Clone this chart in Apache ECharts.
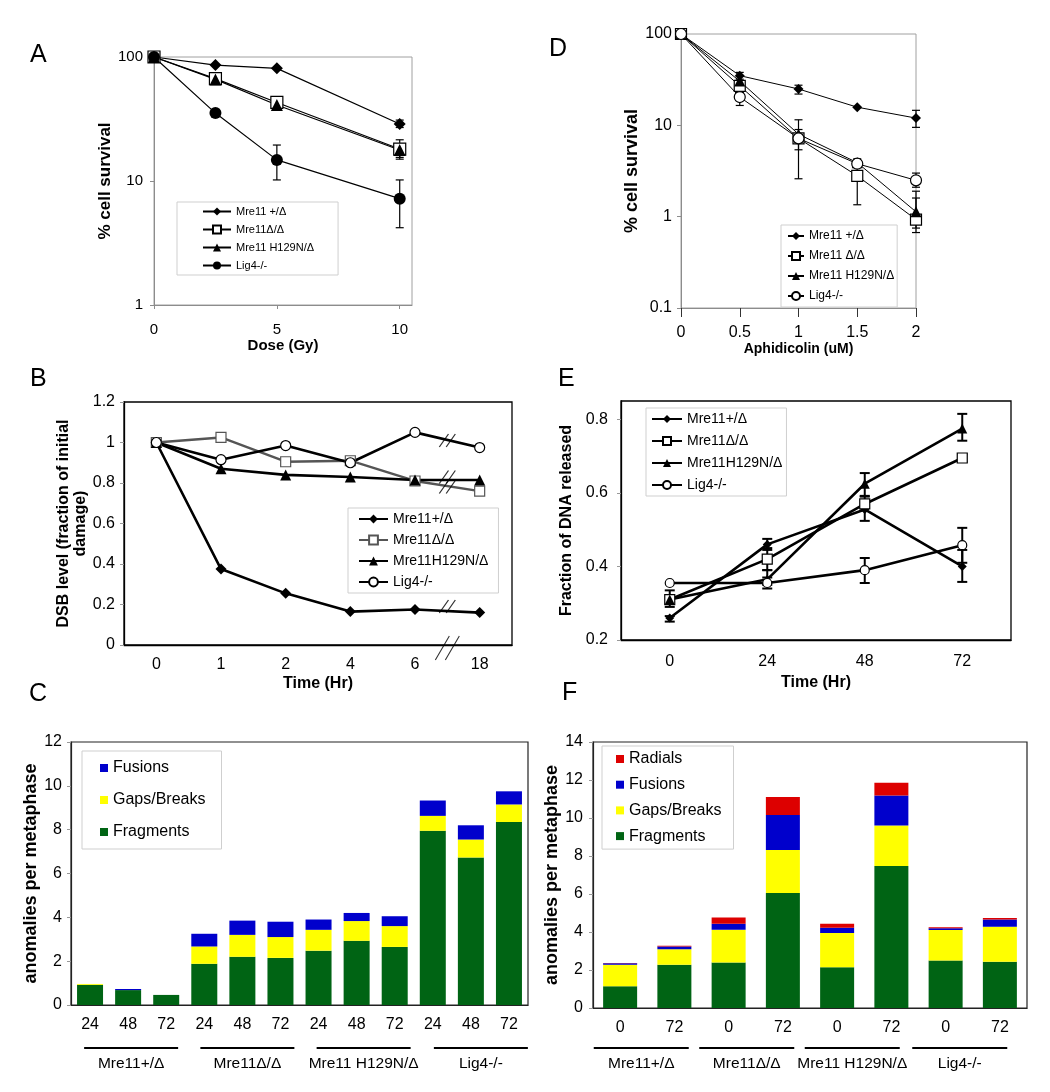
<!DOCTYPE html>
<html><head><meta charset="utf-8">
<script src="https://cdn.jsdelivr.net/npm/echarts@6/dist/echarts.min.js"></script>
<style>html,body{margin:0;padding:0;background:#fff}#chart{width:1050px;height:1092px}</style>
</head><body><div id="chart"></div>
<script>
// ---------- Panel A: IR survival ----------
const doseA = [0, 2.5, 5, 10];
const survA_plus = [100, 86, 81, 28.8];
const survA_dd = [100, 67, 43, 18.1];
const survA_h129 = [100, 66, 41, 17.8];
const survA_lig4 = [100, 35.3, 14.8, 7.2];
const errA_plus = [[10, 27, 31]];
const errA_dd = [[5, 38, 46], [10, 15, 21.5]];
const errA_h129 = [[10, 15.5, 20]];
const errA_lig4 = [[5, 10.2, 19.5], [10, 4.2, 10.2]];

// ---------- Panel D: aphidicolin survival ----------
const doseD = [0, 0.5, 1, 1.5, 2];
const survD_plus = [100, 35, 25, 15.8, 12];
const survD_dd = [100, 27, 7.2, 2.8, 0.93];
const survD_h129 = [100, 30.5, 8, 3.9, 1.13];
const survD_lig4 = [100, 20.4, 7.2, 3.8, 2.5];
const errD_plus = [[0.5, 32, 38], [1, 22, 27.5], [2, 9.5, 14.6]];
const errD_dd = [[0.5, 23, 30], [1, 2.6, 11.5], [1.5, 1.35, 4.3], [2, 0.67, 1.6]];
const errD_h129 = [[1, 5.4, 9], [2, 0.75, 1.9]];
const errD_lig4 = [[0.5, 16.5, 23], [2, 2.1, 3.0]];

// ---------- Panel B: DSB level ----------
const timesB = ['0', '1', '2', '4', '6', '18'];
const dsbB_plus = [1, 0.375, 0.255, 0.165, 0.175, 0.16];
const dsbB_dd = [1, 1.025, 0.905, 0.91, 0.81, 0.76];
const dsbB_h129 = [1, 0.87, 0.84, 0.83, 0.815, 0.815];
const dsbB_lig4 = [1, 0.915, 0.985, 0.9, 1.05, 0.975];
const breakPosB = 5;                       // boundary between "6" and "18"
const breakLevelsB = [1.01, 0.83, 0.78, 0.19];

// ---------- Panel E: fraction of DNA released ----------
const timesE = ['0', '24', '48', '72'];
const relE_plus = [0.26, 0.46, 0.555, 0.40];
const relE_dd = [0.31, 0.42, 0.57, 0.695];
const relE_h129 = [0.31, 0.365, 0.625, 0.775];
const relE_lig4 = [0.355, 0.355, 0.39, 0.458];
const errE_plus = [['0', 0.25, 0.265], ['24', 0.445, 0.475], ['48', 0.524, 0.59], ['72', 0.358, 0.445]];
const errE_dd = [['0', 0.29, 0.335], ['24', 0.39, 0.45], ['72', 0.685, 0.705]];
const errE_h129 = [['24', 0.35, 0.39], ['48', 0.592, 0.654], ['72', 0.742, 0.815]];
const errE_lig4 = [['24', 0.34, 0.37], ['48', 0.355, 0.423], ['72', 0.41, 0.505]];

// ---------- Panel C: anomalies (IR) ----------
const timesC = ['24', '48', '72', '24', '48', '72', '24', '48', '72', '24', '48', '72'];
const groupsC = ['Mre11+/Δ', 'Mre11Δ/Δ', 'Mre11 H129N/Δ', 'Lig4-/-'];
const fragC = [0.92, 0.68, 0.46, 1.88, 2.2, 2.15, 2.48, 2.93, 2.65, 7.95, 6.73, 8.35];
const gapsC = [0.04, 0, 0, 0.79, 1.0, 0.95, 0.95, 0.9, 0.95, 0.68, 0.82, 0.8];
const fusC = [0, 0.05, 0, 0.58, 0.65, 0.7, 0.47, 0.37, 0.45, 0.7, 0.65, 0.6];

// ---------- Panel F: anomalies (aphidicolin) ----------
const timesF = ['0', '72', '0', '72', '0', '72', '0', '72'];
const groupsF = ['Mre11+/Δ', 'Mre11Δ/Δ', 'Mre11 H129N/Δ', 'Lig4-/-'];
const fragF = [1.15, 2.27, 2.4, 6.05, 2.15, 7.47, 2.5, 2.43];
const gapsF = [1.12, 0.82, 1.72, 2.27, 1.8, 2.13, 1.6, 1.85];
const fusF = [0.08, 0.15, 0.32, 1.84, 0.28, 1.58, 0.1, 0.38];
const radF = [0.02, 0.03, 0.32, 0.94, 0.21, 0.68, 0.05, 0.08];

// ---------- styling helpers ----------
const FF = "'Liberation Sans', Arial, Helvetica, sans-serif";
const GREEN = '#006414', YELLOW = '#ffff00', BLUE = '#0000cc', RED = '#dd0000';
const GRAY = '#8c8c8c';
const shiftsC = [3, 5, 7, 10];
const shiftsF = [-6, -9, -12, -13];

function pairs(xs, ys) { return xs.map((x, i) => [x, ys[i]]); }

function lineS(name, data, xi, yi, sym, size, open, lw, col) {
  return {
    type: 'line', name, data, xAxisIndex: xi, yAxisIndex: yi,
    symbol: sym, symbolSize: size, showAllSymbol: true, z: 3,
    lineStyle: { color: col, width: lw },
    itemStyle: open ? { color: '#fff', borderColor: col, borderWidth: 1.2 } : { color: col, borderColor: col, borderWidth: 0 },
    emphasis: { disabled: true }
  };
}

function errS(data, xi, yi, cap, lw) {
  return {
    type: 'custom', data, xAxisIndex: xi, yAxisIndex: yi, encode: { x: 0, y: [1, 2] },
    z: 2, silent: true,
    renderItem(params, api) {
      const x = api.value(0);
      const p1 = api.coord([x, api.value(2)]);
      const p2 = api.coord([x, api.value(1)]);
      const st = { stroke: '#000', lineWidth: lw };
      return { type: 'group', children: [
        { type: 'line', shape: { x1: p1[0], y1: p1[1], x2: p2[0], y2: p2[1] }, style: st },
        { type: 'line', shape: { x1: p1[0] - cap, y1: p1[1], x2: p1[0] + cap, y2: p1[1] }, style: st },
        { type: 'line', shape: { x1: p2[0] - cap, y1: p2[1], x2: p2[0] + cap, y2: p2[1] }, style: st }
      ] };
    }
  };
}

function legendC(names, left, top, o) {
  return Object.assign({
    orient: 'vertical', left, top, data: names, selectedMode: false,
    formatter: n => n.split('|')[1],
    borderColor: '#cfcfcf', borderWidth: 1,
    textStyle: { fontSize: o.fs, color: '#000', fontFamily: FF }
  }, o.extra);
}

function axName(fs) { return { fontSize: fs, fontWeight: 'bold', color: '#000', fontFamily: FF }; }
function lab(fs, margin, extra) { return Object.assign({ fontSize: fs, color: '#000', margin, fontFamily: FF }, extra || {}); }

function grpFmt(shifts) {
  return function (v, i) {
    const s = shifts[i];
    const sp = '{s' + i + '| }';
    const line = s >= 0 ? sp + '{ln| }' : '{ln| }' + sp;
    const txt = s >= 0 ? sp + '{t|' + v + '}' : '{t|' + v + '}' + sp;
    return line + '\n' + txt;
  };
}
function grpRich(w, shifts, fs) {
  const r = {
    ln: { width: w, height: 2, lineHeight: 2, fontSize: 2, backgroundColor: '#000' },
    t: { fontSize: fs, lineHeight: 30, color: '#000', fontFamily: FF }
  };
  shifts.forEach((s, i) => { r['s' + i] = { width: Math.abs(s) * 2, fontSize: 2, lineHeight: 2 }; });
  return r;
}

const option = {
  animation: false,
  backgroundColor: '#fff',
  textStyle: { fontFamily: FF },
  grid: [
    { left: 154, top: 57, width: 258, height: 248, show: true, borderColor: '#a0a0a0', borderWidth: 1 },
    { left: 681, top: 34, width: 235, height: 274, show: true, borderColor: '#a0a0a0', borderWidth: 1 },
    { left: 124, top: 402, width: 388, height: 243, show: true, borderColor: '#000', borderWidth: 1.3 },
    { left: 621, top: 401, width: 390, height: 239, show: true, borderColor: '#000', borderWidth: 1.3 },
    { left: 71, top: 742, width: 457, height: 263, show: true, borderColor: '#222', borderWidth: 1.2 },
    { left: 593, top: 742, width: 434, height: 266, show: true, borderColor: '#222', borderWidth: 1.2 }
  ],
  xAxis: [
    { // 0 A
      type: 'value', gridIndex: 0, min: 0, max: 10.5, interval: 5, splitLine: { show: false },
      axisLine: { onZero: false, lineStyle: { color: GRAY } }, axisTick: { length: 4, lineStyle: { color: GRAY } },
      axisLabel: lab(15, 17, { showMaxLabel: false }),
      name: 'Dose (Gy)', nameLocation: 'middle', nameGap: 28, nameTextStyle: axName(15)
    },
    { // 1 D
      type: 'value', gridIndex: 1, min: 0, max: 2, interval: 0.5, splitLine: { show: false },
      axisLine: { onZero: false, lineStyle: { color: GRAY } }, axisTick: { length: 9, lineStyle: { color: '#333' } },
      axisLabel: lab(16, 17),
      name: 'Aphidicolin (uM)', nameLocation: 'middle', nameGap: 32, nameTextStyle: axName(14)
    },
    { // 2 B
      type: 'category', gridIndex: 2, data: timesB, boundaryGap: true,
      axisLine: { onZero: false, lineStyle: { color: '#000', width: 1.3 } }, axisTick: { length: 4, lineStyle: { color: '#999' } },
      axisLabel: lab(16, 12),
      name: 'Time (Hr)', nameLocation: 'middle', nameGap: 31, nameTextStyle: axName(16)
    },
    { // 3 B hidden (break marks)
      type: 'value', gridIndex: 2, min: 0, max: 6, show: false
    },
    { // 4 E
      type: 'category', gridIndex: 3, data: timesE, boundaryGap: true,
      axisLine: { onZero: false, lineStyle: { color: '#000', width: 1.3 } }, axisTick: { length: 5, lineStyle: { color: '#999' } },
      axisLabel: lab(16, 14),
      name: 'Time (Hr)', nameLocation: 'middle', nameGap: 35, nameTextStyle: axName(16)
    },
    { // 5 C
      type: 'category', gridIndex: 4, data: timesC, boundaryGap: true,
      axisLine: { onZero: false, lineStyle: { color: '#222', width: 1.2 } }, axisTick: { length: 5, lineStyle: { color: '#999' } },
      axisLabel: lab(16, 12, { interval: 0 })
    },
    { // 6 C groups
      type: 'category', gridIndex: 4, data: groupsC, position: 'bottom',
      axisLine: { show: false }, axisTick: { show: false }, splitLine: { show: false },
      axisLabel: { interval: 0, margin: 42, formatter: grpFmt(shiftsC), rich: grpRich(94, shiftsC, 15.5) }
    },
    { // 7 F
      type: 'category', gridIndex: 5, data: timesF, boundaryGap: true,
      axisLine: { onZero: false, lineStyle: { color: '#222', width: 1.2 } }, axisTick: { length: 5, lineStyle: { color: '#999' } },
      axisLabel: lab(16, 12, { interval: 0 })
    },
    { // 8 F groups
      type: 'category', gridIndex: 5, data: groupsF, position: 'bottom',
      axisLine: { show: false }, axisTick: { show: false }, splitLine: { show: false },
      axisLabel: { interval: 0, margin: 39, formatter: grpFmt(shiftsF), rich: grpRich(95, shiftsF, 15.5) }
    }
  ],
  yAxis: [
    { // 0 A
      type: 'log', logBase: 10, min: 1, max: 100, gridIndex: 0, splitLine: { show: false },
      axisLine: { show: true, lineStyle: { color: GRAY } }, axisTick: { show: true, length: 4, lineStyle: { color: GRAY } },
      axisLabel: lab(15, 11),
      name: '% cell survival', nameLocation: 'middle', nameRotate: 90, nameGap: 37, nameTextStyle: axName(17)
    },
    { // 1 D
      type: 'log', logBase: 10, min: 0.1, max: 100, gridIndex: 1, splitLine: { show: false },
      axisLine: { show: true, lineStyle: { color: GRAY } }, axisTick: { show: true, length: 4, lineStyle: { color: GRAY } },
      axisLabel: lab(16, 9),
      name: '% cell survival', nameLocation: 'middle', nameRotate: 90, nameGap: 27, nameTextStyle: axName(18)
    },
    { // 2 B
      type: 'value', min: 0, max: 1.2, interval: 0.2, gridIndex: 2, splitLine: { show: false },
      axisLine: { show: true, lineStyle: { color: '#000', width: 1.3 } }, axisTick: { show: true, length: 4, lineStyle: { color: '#999' } },
      axisLabel: lab(16, 9),
      name: 'DSB level (fraction of initial\ndamage)', nameLocation: 'middle', nameRotate: 90, nameGap: 27,
      nameTextStyle: Object.assign(axName(16), { lineHeight: 17 })
    },
    { // 3 E
      type: 'value', min: 0.2, max: 0.85, interval: 0.2, gridIndex: 3, splitLine: { show: false },
      axisLine: { show: true, lineStyle: { color: '#000', width: 1.3 } }, axisTick: { show: true, length: 4, lineStyle: { color: '#999' } },
      axisLabel: lab(16, 13, { showMaxLabel: false }),
      name: 'Fraction of DNA released', nameLocation: 'middle', nameRotate: 90, nameGap: 46, nameTextStyle: axName(16)
    },
    { // 4 C
      type: 'value', min: 0, max: 12, interval: 2, gridIndex: 4, splitLine: { show: false },
      axisLine: { show: true, lineStyle: { color: '#222', width: 1.2 } }, axisTick: { show: true, length: 4, lineStyle: { color: '#999' } },
      axisLabel: lab(16, 9),
      name: 'anomalies per metaphase', nameLocation: 'middle', nameRotate: 90, nameGap: 28, nameTextStyle: axName(18)
    },
    { // 5 F
      type: 'value', min: 0, max: 14, interval: 2, gridIndex: 5, splitLine: { show: false },
      axisLine: { show: true, lineStyle: { color: '#222', width: 1.2 } }, axisTick: { show: true, length: 4, lineStyle: { color: '#999' } },
      axisLabel: lab(16, 10),
      name: 'anomalies per metaphase', nameLocation: 'middle', nameRotate: 90, nameGap: 31, nameTextStyle: axName(18)
    }
  ],
  legend: [
    legendC(['A|Mre11 +/Δ', 'A|Mre11Δ/Δ', 'A|Mre11 H129N/Δ', 'A|Lig4-/-'], 177, 202,
      { fs: 11, extra: { itemWidth: 28, itemHeight: 10, itemGap: 7, padding: [4, 24, 4, 25] } }),
    legendC(['D|Mre11 +/Δ', 'D|Mre11 Δ/Δ', 'D|Mre11 H129N/Δ', 'D|Lig4-/-'], 781, 225,
      { fs: 12, extra: { itemWidth: 16, itemHeight: 10, itemGap: 8, padding: [5, 3, 5, 6] } }),
    legendC(['B|Mre11+/Δ', 'B|Mre11Δ/Δ', 'B|Mre11H129N/Δ', 'B|Lig4-/-'], 348, 508,
      { fs: 14, extra: { itemWidth: 29, itemHeight: 11, itemGap: 7, padding: [4, 10, 4, 10] } }),
    legendC(['E|Mre11+/Δ', 'E|Mre11Δ/Δ', 'E|Mre11H129N/Δ', 'E|Lig4-/-'], 646, 408,
      { fs: 14, extra: { itemWidth: 30, itemHeight: 10, itemGap: 8, padding: [4, 4, 4, 5] } }),
    legendC(['C|Fusions', 'C|Gaps/Breaks', 'C|Fragments'], 82, 751,
      { fs: 16, extra: { icon: 'rect', itemWidth: 8, itemHeight: 8, itemGap: 16, padding: [9, 16, 9, 18] } }),
    legendC(['F|Radials', 'F|Fusions', 'F|Gaps/Breaks', 'F|Fragments'], 602, 746,
      { fs: 16, extra: { icon: 'rect', itemWidth: 8, itemHeight: 8, itemGap: 9.7, padding: [5, 12, 5, 14] } })
  ],
  graphic: [
    { type: 'text', left: 30, top: 43, style: { text: 'A', fontSize: 25, fontFamily: FF, fill: '#000' } },
    { type: 'text', left: 549, top: 37, style: { text: 'D', fontSize: 25, fontFamily: FF, fill: '#000' } },
    { type: 'text', left: 30, top: 367, style: { text: 'B', fontSize: 25, fontFamily: FF, fill: '#000' } },
    { type: 'text', left: 558, top: 367, style: { text: 'E', fontSize: 25, fontFamily: FF, fill: '#000' } },
    { type: 'text', left: 29, top: 682, style: { text: 'C', fontSize: 25, fontFamily: FF, fill: '#000' } },
    { type: 'text', left: 562, top: 681, style: { text: 'F', fontSize: 25, fontFamily: FF, fill: '#000' } }
  ],
  series: [
    // A
    errS(errA_plus.concat(errA_dd, errA_h129, errA_lig4), 0, 0, 4, 1.2),
    lineS('A|Mre11 +/Δ', pairs(doseA, survA_plus), 0, 0, 'diamond', 12, false, 1.2, '#000'),
    lineS('A|Mre11Δ/Δ', pairs(doseA, survA_dd), 0, 0, 'rect', 12, true, 1.2, '#000'),
    lineS('A|Mre11 H129N/Δ', pairs(doseA, survA_h129), 0, 0, 'triangle', 12, false, 1.2, '#000'),
    lineS('A|Lig4-/-', pairs(doseA, survA_lig4), 0, 0, 'circle', 12, false, 1.2, '#000'),
    // D
    errS(errD_plus.concat(errD_dd, errD_h129, errD_lig4), 1, 1, 4, 1.2),
    lineS('D|Mre11 +/Δ', pairs(doseD, survD_plus), 1, 1, 'diamond', 10, false, 1, '#000'),
    lineS('D|Mre11 Δ/Δ', pairs(doseD, survD_dd), 1, 1, 'rect', 11, true, 1, '#000'),
    lineS('D|Mre11 H129N/Δ', pairs(doseD, survD_h129), 1, 1, 'triangle', 11, false, 1, '#000'),
    lineS('D|Lig4-/-', pairs(doseD, survD_lig4), 1, 1, 'circle', 11, true, 1, '#000'),
    // B
    lineS('B|Mre11+/Δ', dsbB_plus, 2, 2, 'diamond', 11, false, 2.6, '#000'),
    lineS('B|Mre11Δ/Δ', dsbB_dd, 2, 2, 'rect', 10, true, 2.4, '#555'),
    lineS('B|Mre11H129N/Δ', dsbB_h129, 2, 2, 'triangle', 11, false, 2.6, '#000'),
    lineS('B|Lig4-/-', dsbB_lig4, 2, 2, 'circle', 10, true, 2.6, '#000'),
    {
      type: 'scatter', xAxisIndex: 3, yAxisIndex: 2, silent: true, clip: false, z: 5,
      data: breakLevelsB.map(v => [breakPosB, v]),
      symbol: 'path://M0,13L8,0M6,13L14,0', symbolSize: [16, 13],
      itemStyle: { color: 'transparent', borderColor: '#000', borderWidth: 1.1 }
    },
    {
      type: 'scatter', xAxisIndex: 3, yAxisIndex: 2, silent: true, clip: false, z: 5,
      data: [[breakPosB, 0]],
      symbol: 'path://M0,22L14,0M10,22L24,0', symbolSize: [24, 24], symbolOffset: [0, 3],
      itemStyle: { color: 'transparent', borderColor: '#000', borderWidth: 1.1 }
    },
    // E
    errS(errE_plus.concat(errE_dd, errE_h129, errE_lig4), 4, 3, 5, 2),
    lineS('E|Mre11+/Δ', relE_plus, 4, 3, 'diamond', 9, false, 2.6, '#000'),
    lineS('E|Mre11Δ/Δ', relE_dd, 4, 3, 'rect', 10, true, 2.6, '#000'),
    lineS('E|Mre11H129N/Δ', relE_h129, 4, 3, 'triangle', 10, false, 2.6, '#000'),
    lineS('E|Lig4-/-', relE_lig4, 4, 3, 'circle', 9, true, 2.6, '#000'),
    // C
    { type: 'bar', name: 'C|Fragments', stack: 'C', data: fragC, xAxisIndex: 5, yAxisIndex: 4, barWidth: 26, itemStyle: { color: GREEN } },
    { type: 'bar', name: 'C|Gaps/Breaks', stack: 'C', data: gapsC, xAxisIndex: 5, yAxisIndex: 4, barWidth: 26, itemStyle: { color: YELLOW } },
    { type: 'bar', name: 'C|Fusions', stack: 'C', data: fusC, xAxisIndex: 5, yAxisIndex: 4, barWidth: 26, itemStyle: { color: BLUE } },
    // F
    { type: 'bar', name: 'F|Fragments', stack: 'F', data: fragF, xAxisIndex: 7, yAxisIndex: 5, barWidth: 34, itemStyle: { color: GREEN } },
    { type: 'bar', name: 'F|Gaps/Breaks', stack: 'F', data: gapsF, xAxisIndex: 7, yAxisIndex: 5, barWidth: 34, itemStyle: { color: YELLOW } },
    { type: 'bar', name: 'F|Fusions', stack: 'F', data: fusF, xAxisIndex: 7, yAxisIndex: 5, barWidth: 34, itemStyle: { color: BLUE } },
    { type: 'bar', name: 'F|Radials', stack: 'F', data: radF, xAxisIndex: 7, yAxisIndex: 5, barWidth: 34, itemStyle: { color: RED } }
  ]
};

const chart = echarts.init(document.getElementById('chart'), null, { renderer: 'canvas' });
chart.setOption(option);
</script>
</body></html>
